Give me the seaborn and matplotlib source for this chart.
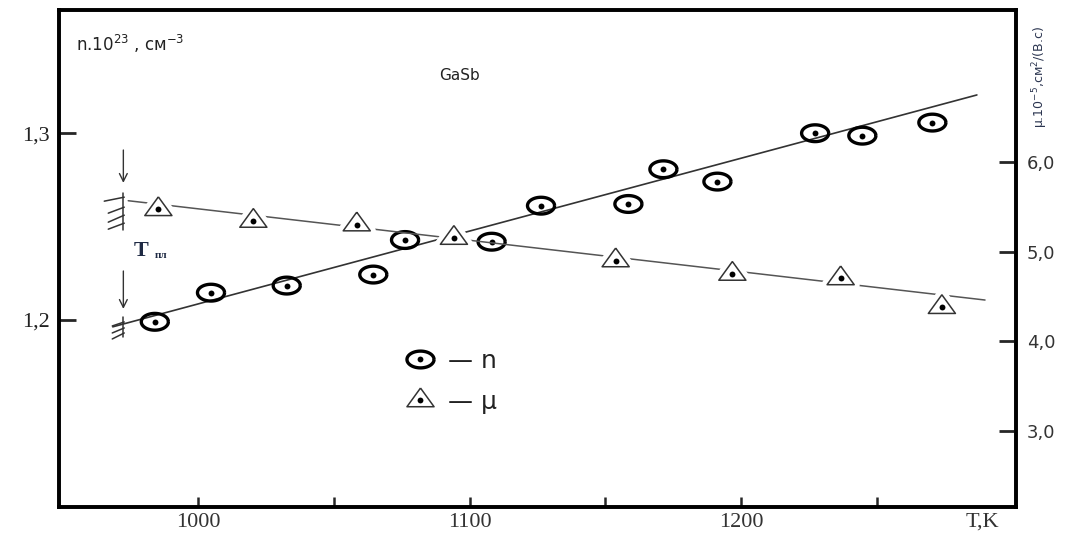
import numpy as np
import pandas as pd
import matplotlib
matplotlib.use("Agg")
import matplotlib.pyplot as plt
import matplotlib.patheffects as pe
from matplotlib.lines import Line2D
from matplotlib.legend_handler import HandlerTuple
from matplotlib.ticker import FuncFormatter
import seaborn as sns

# ---------------- data ----------------
T_n = [984.0, 1004.7, 1032.6, 1064.5, 1076.2, 1108.1, 1126.3, 1158.5,
       1171.4, 1191.3, 1227.3, 1244.7, 1270.5]
n_vals = [1.199, 1.2146, 1.2184, 1.2243, 1.2428, 1.2419, 1.2612, 1.2621,
          1.2807, 1.2741, 1.3000, 1.2987, 1.3057]

T_mu = [985.3, 1020.3, 1058.4, 1094.2, 1153.8, 1196.8, 1236.7, 1274.0]
mu_vals = [5.47, 5.34, 5.30, 5.15, 4.90, 4.75, 4.70, 4.38]

# hand-drawn straight lines through the points
n_fit_T = [968.5, 1286.9]
n_fit_vals = [1.1963, 1.3205]
mu_fit_T = [974.2, 1289.9]
mu_fit_vals = [5.566, 4.46]

T_melt = 972.0
x_ticks = [1000, 1050, 1100, 1150, 1200, 1250]
x_tick_labels = ["1000", "", "1100", "", "1200", ""]
n_ticks = [1.2, 1.3]
mu_ticks = [3.0, 4.0, 5.0, 6.0]

df_n = pd.DataFrame({"T": T_n, "n": n_vals})
df_mu = pd.DataFrame({"T": T_mu, "mu": mu_vals})
df_nfit = pd.DataFrame({"T": n_fit_T, "n": n_fit_vals})
df_mufit = pd.DataFrame({"T": mu_fit_T, "mu": mu_fit_vals})

# ---------------- style ----------------
sns.set_theme(style="white")
plt.rcParams["font.family"] = ["DejaVu Sans"]
plt.rcParams["axes.unicode_minus"] = False
SERIF = ["Liberation Serif", "DejaVu Serif"]
DARK = "#222222"

fig = plt.figure(figsize=(10.7, 5.37), dpi=100)
ax = fig.add_axes([0.05542, 0.05587, 0.89383, 0.92551])
ax2 = ax.twinx()
ax2.set_position(ax.get_position())
ax2.patch.set_visible(False)

# custom (horizontally stretched) markers
t = np.linspace(0, 2 * np.pi, 60)
ellipse = list(zip(np.cos(t), 0.62 * np.sin(t)))
tri = [(0, 0.92), (-1, -0.46), (1, -0.46), (0, 0.92)]

# fit lines
sns.lineplot(data=df_nfit, x="T", y="n", ax=ax, color="#333333", lw=1.2,
             zorder=2, legend=False)
sns.lineplot(data=df_mufit, x="T", y="mu", ax=ax2, color="#555555", lw=1.1,
             zorder=2, legend=False)

# n points (circles with dot)
sns.scatterplot(data=df_n, x="T", y="n", ax=ax, marker=ellipse, s=19.5 ** 2,
                facecolor="none", edgecolor="black", linewidth=2.4, zorder=4)
sns.scatterplot(data=df_n, x="T", y="n", ax=ax, marker="o", s=18,
                color="black", edgecolor="black", linewidth=0, zorder=5)

# mu points (triangles with dot)
sc = sns.scatterplot(data=df_mu, x="T", y="mu", ax=ax2, marker=tri, s=19.5 ** 2,
                     facecolor="white", edgecolor="#333333", linewidth=1.1,
                     zorder=4)
sc.collections[-1].set_path_effects([pe.Stroke(linewidth=8, foreground="white"),
                                     pe.Normal()])
sns.scatterplot(data=df_mu, x="T", y="mu", ax=ax2, marker="o", s=18,
                color="black", edgecolor="black", linewidth=0, zorder=5)

# ---------------- axes ----------------
ax.set_xlim(948.8, 1301.2)
ax.set_ylim(1.0998, 1.366)
ax2.set_ylim(2.155, 7.69)

comma = FuncFormatter(lambda v, p: f"{v:.1f}".replace(".", ","))
ax.set_xticks(x_ticks)
ax.set_xticklabels(x_tick_labels, fontfamily=SERIF, fontsize=16, color="#333333")
ax.set_yticks(n_ticks)
ax.yaxis.set_major_formatter(comma)
for lab in ax.get_yticklabels():
    lab.set_fontfamily(SERIF)
    lab.set_fontsize(16)
    lab.set_color(DARK)
ax2.set_yticks(mu_ticks)
ax2.yaxis.set_major_formatter(comma)
for lab in ax2.get_yticklabels():
    lab.set_fontfamily(["DejaVu Sans"])
    lab.set_fontsize(13)
    lab.set_color("#333333")

ax.tick_params(axis="x", direction="in", length=7, width=1.8, pad=4,
               bottom=True, top=False)
ax.tick_params(axis="y", direction="in", length=12, width=2.0, pad=7,
               left=True, right=False)
ax2.tick_params(axis="y", direction="in", length=12, width=2.0, pad=8,
                right=True, left=False)
ax.set_xlabel("")
ax.set_ylabel("")
ax2.set_ylabel("")
for a in (ax, ax2):
    for s in a.spines.values():
        s.set_visible(True)
        s.set_color("black")
        s.set_linewidth(2.6)

# ---------------- annotations ----------------
fig.text(982 / 1070, 1 - 522 / 537, "T,K", ha="center", va="center",
         fontfamily=SERIF, fontsize=16, color="#333333")

fig.text(76 / 1070, 1 - 44 / 537, r"n.10$^{23}$ , см$^{-3}$", ha="left",
         va="center", fontsize=12, color=DARK)
fig.text(460 / 1070, 1 - 75 / 537, "GaSb", ha="center", va="center",
         fontsize=11, color=DARK)
fig.text(1040 / 1070, 1 - 77 / 537, r"μ.10$^{-5}$,см$^{2}$/(В.с)", rotation=90,
         ha="center", va="center", fontsize=9, color="#2b3550")

# T_пл label
fig.text(141 / 1070, 1 - 251 / 537, "T", ha="center", va="center",
         fontfamily=SERIF, fontsize=16, fontweight="bold", color="#1f2a44")
fig.text(161 / 1070, 1 - 255 / 537, "пл", ha="center", va="center",
         fontfamily=SERIF, fontsize=8, fontweight="bold", color="#1f2a44")

# arrows pointing at the melting point
arrow_kw = dict(arrowstyle="->", lw=1.0, color="#333333", shrinkA=0, shrinkB=0,
                mutation_scale=14)
ax.annotate("", xy=(T_melt + 0.4, 1.2734), xytext=(T_melt + 0.4, 1.2910),
            arrowprops=arrow_kw)
ax.annotate("", xy=(T_melt + 0.4, 1.2059), xytext=(T_melt + 0.4, 1.2262),
            arrowprops=arrow_kw)


def draw_strokes(a, x0, y0, strokes):
    """Short hatch strokes, offsets given in pixels from (x0, y0)."""
    base = a.transData.transform((x0, y0))
    inv = fig.transFigure.inverted()
    for (xa, ya), (xb, yb) in strokes:
        p0 = inv.transform((base[0] + xa, base[1] - ya))
        p1 = inv.transform((base[0] + xb, base[1] - yb))
        fig.add_artist(Line2D([p0[0], p1[0]], [p0[1], p1[1]],
                              transform=fig.transFigure, lw=1.1,
                              color="#333333"))


fig.canvas.draw()
upper_strokes = [((1, -8), (1, 29)), ((-18, 0), (2, -4)), ((-14, 12), (2, 6)),
                 ((-14, 21), (2, 14)), ((-14, 28), (2, 22))]
lower_strokes = [((1, -8), (1, 12)), ((-10, 1), (2, -3)), ((-10, 8), (2, 3)),
                 ((-10, 14), (2, 8))]
draw_strokes(ax2, T_melt, 5.561, upper_strokes)
draw_strokes(ax, T_melt, 1.1973, lower_strokes)

# legend
h_n = Line2D([], [], linestyle="none", marker=ellipse, markersize=19.5,
             markerfacecolor="none", markeredgecolor="black",
             markeredgewidth=2.4)
h_mu = Line2D([], [], linestyle="none", marker=tri, markersize=19.5,
              markerfacecolor="white", markeredgecolor="#333333",
              markeredgewidth=1.1)
h_dot = Line2D([], [], linestyle="none", marker="o", markersize=4.2,
               markerfacecolor="black", markeredgewidth=0)
leg = ax.legend([(h_n, h_dot), (h_mu, h_dot)], ["— n", "— μ"], frameon=False,
                fontsize=18, handlelength=1.0, handletextpad=0.6,
                labelspacing=0.7, borderpad=0, borderaxespad=0,
                loc="upper left", handler_map={tuple: HandlerTuple(ndivide=1)},
                bbox_to_anchor=(407.5 / 1070, 1 - 348.5 / 537),
                bbox_transform=fig.transFigure)
for txt in leg.get_texts():
    txt.set_color(DARK)

fig.savefig("out.png", dpi=100)
